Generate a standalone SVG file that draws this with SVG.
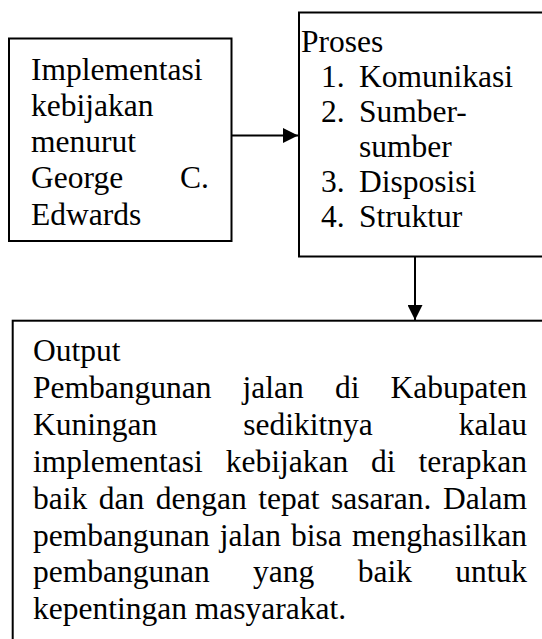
<svg xmlns="http://www.w3.org/2000/svg" width="542" height="639" viewBox="0 0 542 639">
<style>
.box{fill:#fff;stroke:#000;stroke-width:2}
.t{font-family:"Liberation Serif","Times New Roman","DejaVu Serif",serif;font-size:31.5px;fill:#000}
.e{text-anchor:end}
.ln{stroke:#000;stroke-width:2;fill:none}
</style>
<defs>
<marker id="ah" viewBox="0 0 10 10" refX="10" refY="5" markerWidth="7.5" markerHeight="7.5" markerUnits="strokeWidth" orient="auto">
<path d="M0,0 L10,5 L0,10 Z" fill="#000"/>
</marker>
</defs>
<rect width="542" height="639" fill="#fff"/>
<g id="node-implementasi">
<rect class="box" x="9" y="38.5" width="222.5" height="202.5"/>
<text class="t" x="31" y="79.7">Implementasi</text>
<text class="t" x="31" y="115.9">kebijakan</text>
<text class="t" x="31" y="152.1">menurut</text>
<text class="t" x="31" y="188.3">George</text>
<text class="t e" x="209" y="188.3">C.</text>
<text class="t" x="31" y="224.5">Edwards</text>
</g>
<g id="node-proses">
<rect class="box" x="299" y="12.5" width="260" height="244"/>
<text class="t" x="301" y="52">Proses</text>
<text class="t" x="321" y="87">1.</text><text class="t" x="359" y="87">Komunikasi</text>
<text class="t" x="321" y="122">2.</text><text class="t" x="359" y="122">Sumber-</text>
<text class="t" x="359" y="157.2">sumber</text>
<text class="t" x="321" y="192.3">3.</text><text class="t" x="359" y="192.3">Disposisi</text>
<text class="t" x="321" y="227.3">4.</text><text class="t" x="359" y="227.3">Struktur</text>
</g>
<g id="node-output">
<rect class="box" x="12.7" y="320.7" width="560" height="340"/>
<text class="t" x="33" y="361">Output</text>
<text class="t" x="33" y="397.9">Pembangunan</text><text class="t" x="242.6" y="397.9">jalan</text><text class="t" x="334.9" y="397.9">di</text><text class="t e" x="527" y="397.9">Kabupaten</text>
<text class="t" x="33" y="434.8">Kuningan</text><text class="t" x="243.3" y="434.8">sedikitnya</text><text class="t e" x="527" y="434.8">kalau</text>
<text class="t" x="33" y="471.7">implementasi</text><text class="t" x="225.7" y="471.7">kebijakan</text><text class="t" x="371.1" y="471.7">di</text><text class="t e" x="527" y="471.7">terapkan</text>
<text class="t" x="33" y="508.6">baik</text><text class="t" x="98.7" y="508.6">dan</text><text class="t" x="155.7" y="508.6">dengan</text><text class="t" x="258.2" y="508.6">tepat</text><text class="t" x="330.9" y="508.6">sasaran.</text><text class="t e" x="527" y="508.6">Dalam</text>
<text class="t" x="33" y="545.5">pembangunan</text><text class="t" x="219.8" y="545.5">jalan</text><text class="t" x="291.1" y="545.5">bisa</text><text class="t e" x="527" y="545.5">menghasilkan</text>
<text class="t" x="33" y="582.4">pembangunan</text><text class="t" x="253.1" y="582.4">yang</text><text class="t" x="357.7" y="582.4">baik</text><text class="t e" x="527" y="582.4">untuk</text>
<text class="t" x="33" y="619.3">kepentingan masyarakat.</text>
</g>
<g id="connectors">
<line class="ln" x1="231.5" y1="135.5" x2="298" y2="135.5" marker-end="url(#ah)"/>
<line class="ln" x1="415" y1="256.5" x2="415" y2="320" marker-end="url(#ah)"/>
</g>
</svg>
